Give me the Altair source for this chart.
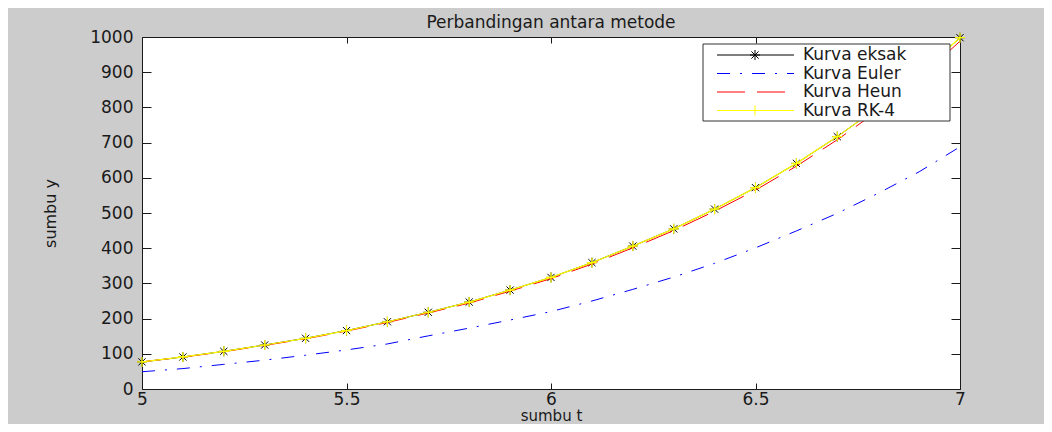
import altair as alt
import pandas as pd

# ---- data ----
t_values = [5.0, 5.1, 5.2, 5.3, 5.4, 5.5, 5.6, 5.7, 5.8, 5.9, 6.0,
            6.1, 6.2, 6.3, 6.4, 6.5, 6.6, 6.7, 6.8, 6.9, 7.0]
exact = [77, 91, 107, 125, 144, 166, 191, 218, 247, 281, 317,
         359, 406, 455, 511, 572, 641, 717, 801, 894, 998]
euler = [49, 58, 70, 82, 96, 111, 128, 151, 173, 196, 220,
         250, 283, 318, 357, 401, 449, 499, 556, 617, 688]
heun = [77, 90.5, 106, 124, 142.5, 164.5, 189, 216, 244, 278, 313.5,
        355, 401, 450, 505, 565, 633, 708, 791, 883, 988]
rk4 = [77, 91, 107, 125, 144, 166, 191, 218, 247, 281, 317,
       359, 406, 455, 511, 572, 641, 717, 801, 894, 998]

series_names = ["Kurva eksak", "Kurva Euler", "Kurva Heun", "Kurva RK-4"]
series_colors = ["#000000", "#0000ff", "#ff0000", "#ffff00"]
x_ticks = [5, 5.5, 6, 6.5, 7]
y_ticks = [0, 100, 200, 300, 400, 500, 600, 700, 800, 900, 1000]

title_text = "Perbandingan antara metode"
x_title = "sumbu t"
y_title = "sumbu y"

# ---- styling ----
FONT = "DejaVu Sans"
INK = "#1a1a1a"
W, H = 818, 352
ASTERISK = "M-1,0L1,0M0,-1L0,1M-0.72,-0.72L0.72,0.72M-0.72,0.72L0.72,-0.72"
PLUS = "M-1,0L1,0M0,-1L0,1"
DASH_EULER = [13, 10, 2, 10]
DASH_HEUN = [28, 12]

df = pd.DataFrame({"t": t_values, "exact": exact, "euler": euler,
                   "heun": heun, "rk4": rk4})

x_axis = alt.Axis(values=x_ticks, format="~g", title=x_title, ticks=False,
                  domain=False, grid=True, gridDash=[6, H - 12],
                  gridColor=INK, gridOpacity=1, gridWidth=1,
                  labelFont=FONT, labelFontSize=17, labelColor=INK,
                  labelPadding=2, labelFlush=False,
                  titleFont=FONT, titleFontSize=15, titleFontWeight="normal",
                  titleColor=INK, titleBaseline="alphabetic",
                  titleX=W / 2, titleY=31)
y_axis = alt.Axis(values=y_ticks, format="d", title=y_title, ticks=False,
                  domain=False, grid=True, gridDash=[9, W - 18],
                  gridColor=INK, gridOpacity=1, gridWidth=1,
                  labelFont=FONT, labelFontSize=17, labelColor=INK,
                  labelPadding=9, labelFlush=False,
                  titleFont=FONT, titleFontSize=16, titleFontWeight="normal",
                  titleColor=INK, titlePadding=31)

x_scale = alt.Scale(domain=[5, 7], nice=False, zero=False)
y_scale = alt.Scale(domain=[0, 1000], nice=False)


def xe():
    return alt.X("t:Q", scale=x_scale, axis=x_axis)


def ye(field):
    return alt.Y(f"{field}:Q", scale=y_scale, axis=y_axis)


base = alt.Chart(df)

exact_line = base.mark_line(color=series_colors[0], strokeWidth=1).encode(x=xe(), y=ye("exact"))
exact_pts = base.mark_point(shape=ASTERISK, size=100, filled=False,
                            color=series_colors[0], strokeWidth=1, opacity=1
                            ).encode(x=xe(), y=ye("exact"))
euler_line = base.mark_line(color=series_colors[1], strokeWidth=1,
                            strokeDash=DASH_EULER).encode(x=xe(), y=ye("euler"))
heun_line = base.mark_line(color=series_colors[2], strokeWidth=1,
                           strokeDash=DASH_HEUN).encode(x=xe(), y=ye("heun"))
rk4_line = base.mark_line(color=series_colors[3], strokeWidth=1.2).encode(x=xe(), y=ye("rk4"))
rk4_pts = base.mark_point(shape=PLUS, size=100, filled=False,
                          color=series_colors[3], strokeWidth=1.2, opacity=1
                          ).encode(x=xe(), y=ye("rk4"))

layers = [exact_line, exact_pts, euler_line, heun_line, rk4_line, rk4_pts]

# ---- title as a text mark above the plot ----
ttl = pd.DataFrame({"label": [title_text]})
layers.append(alt.Chart(ttl).mark_text(
    align="center", baseline="alphabetic", font=FONT, fontSize=17, color=INK
).encode(x=alt.value(W / 2), y=alt.value(-9), text="label:N"))

# ---- legend (box, line samples, markers, labels) ----
one = pd.DataFrame({"k": [0]})
legend_box = alt.Chart(one).mark_rect(fill="white", stroke="#333333", strokeWidth=1).encode(
    x=alt.value(561), x2=alt.value(808), y=alt.value(7), y2=alt.value(84))
layers.append(legend_box)

row_y = [18, 36.5, 55, 73.5]
dashes = [None, DASH_EULER, DASH_HEUN, None]
markers = [ASTERISK, None, None, PLUS]
for i, name in enumerate(series_names):
    kw = {"color": series_colors[i], "strokeWidth": 1}
    if dashes[i] is not None:
        kw["strokeDash"] = dashes[i]
    layers.append(alt.Chart(one).mark_rule(**kw).encode(
        x=alt.value(575), x2=alt.value(652), y=alt.value(row_y[i])))
    if markers[i] is not None:
        layers.append(alt.Chart(one).mark_point(
            shape=markers[i], size=100, filled=False, color=series_colors[i],
            strokeWidth=1, opacity=1).encode(x=alt.value(613), y=alt.value(row_y[i])))
    lab = pd.DataFrame({"label": [name]})
    layers.append(alt.Chart(lab).mark_text(
        align="left", baseline="middle", font=FONT, fontSize=17, color=INK
    ).encode(x=alt.value(661), y=alt.value(row_y[i]), text="label:N"))

chart = alt.layer(*layers).properties(
    width=W, height=H,
    padding={"left": 134, "top": 29, "right": 84, "bottom": 35},
    autosize=alt.AutoSizeParams(type="none"),
    background="#cccccc",
).configure_view(fill="white", stroke=INK, strokeWidth=1)

chart.save("out.html", embed_options={"renderer": "svg", "actions": False})
